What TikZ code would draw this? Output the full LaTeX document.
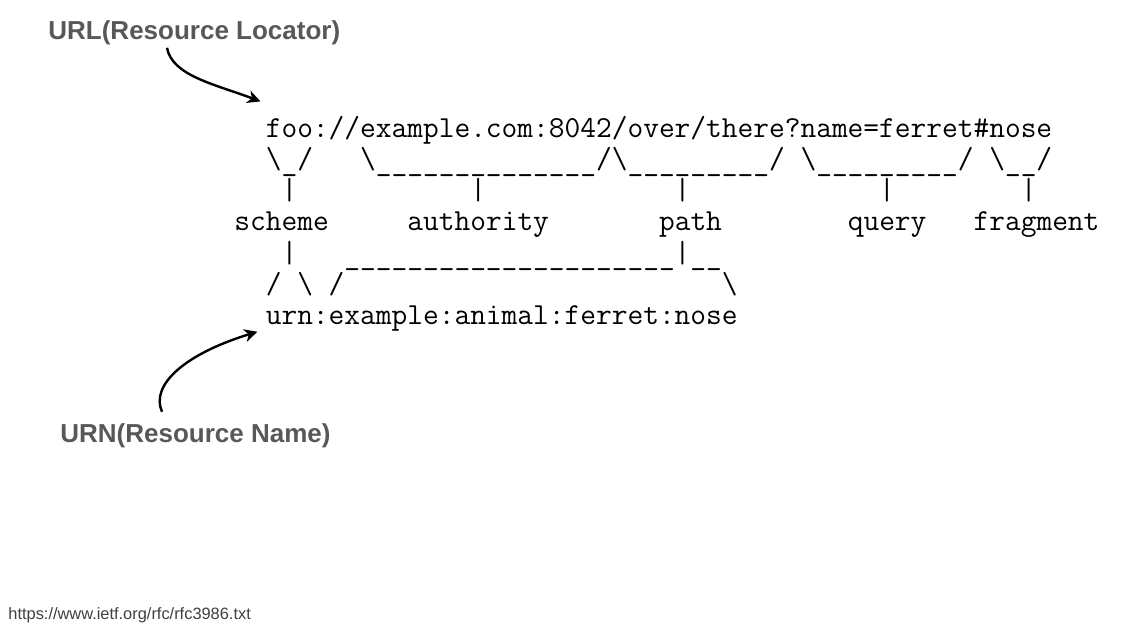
\documentclass[tikz,border=0pt]{standalone}
\usepackage{fontspec}
\usepackage{tikz}
\usetikzlibrary{positioning,arrows.meta}
\newfontfamily\labelfont{Liberation Sans}
\definecolor{labelgray}{RGB}{88,88,88}
% 重复的下划线和空格
\newcommand{\unders}[1]{\foreach \i in {1,...,#1}{\raisebox{-0.06em}{\_}}}
\newcommand{\blanks}[1]{\foreach \i in {1,...,#1}{~}}

\begin{document}
\begin{tikzpicture}[x=0.5pt,y=-0.5pt,
	ascii/.style={font=\ttfamily\fontsize{15.27}{16}\selectfont, anchor=base west, inner sep=0pt},
	biglabel/.style={font=\labelfont\bfseries\fontsize{13}{15}\selectfont, text=labelgray, anchor=base west, inner sep=0pt},
	curvy/.style={line width=1.2pt, -{Stealth[length=6.5pt,width=6.5pt,inset=2pt]}}]
	\useasboundingbox (0,0) rectangle (1125,635);
	
	% 标题
	\node[biglabel] (urllabel) at (48,40) {URL(Resource Locator)};
	\node[biglabel] (urnlabel) at (60,443) {URN(Resource Name)};
	
	% RFC 3986 的字符图，每行一个节点，第 9 列在 x=265.4
	\node[ascii] (foo) at (265.4,138) {foo://example.com:8042/over/there?name=ferret\#nose};
	\node[ascii] (brackets) at (265.4,169) {\textbackslash\unders{1}/\blanks{3}\textbackslash\unders{14}/\textbackslash\unders{9}/~\textbackslash\unders{9}/~\textbackslash\unders{2}/};
	\node[ascii] (bars) at (265.4,200) {~\textbar\blanks{11}\textbar\blanks{12}\textbar\blanks{12}\textbar\blanks{8}\textbar};
	\node[ascii] (parts) at (234,231) {scheme\blanks{5}authority\blanks{7}path\blanks{8}query\blanks{3}fragment};
	\node[ascii] (joint) at (265.4,263) {~\textbar\blanks{3}\unders{21}\textbar\unders{2}};
	\node[ascii] (split) at (265.4,294) {/~\textbackslash~/\blanks{24}\textbackslash};
	\node[ascii] (urn) at (265.4,325) {urn:example:animal:ferret:nose};
	
	% 手绘箭头
	\draw[curvy] ([shift={(119,2)}]urllabel.south west) .. controls +(5,28) and +(-45,-17) .. ([shift={(-5,-15)}]foo.north west);
	\draw[curvy] ([shift={(102,-12)}]urnlabel.north west) .. controls +(-12,-27) and +(-72,22) .. ([shift={(-8,26)}]urn.north west);
	
	% 出处
	\node[anchor=base west, inner sep=0pt, font=\labelfont\fontsize{8.2}{10}\selectfont, text=black!75] (source) at (8,620) {https://www.ietf.org/rfc/rfc3986.txt};
\end{tikzpicture}
\end{document}
